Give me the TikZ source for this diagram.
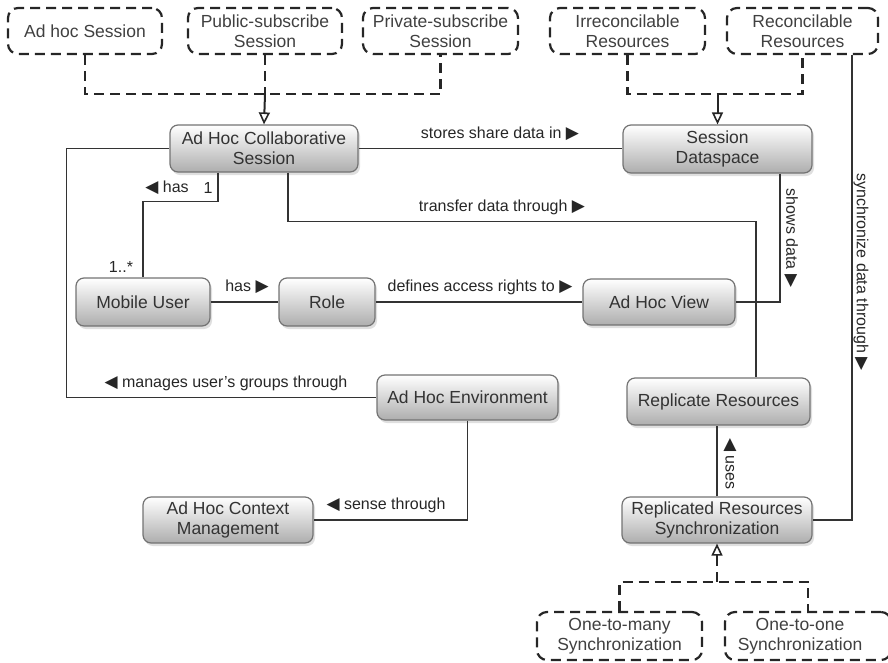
\documentclass[tikz,border=0pt]{standalone}
\usepackage{fontspec}
\setmainfont{Liberation Sans}
\newfontfamily\symf{DejaVu Sans}
\usetikzlibrary{arrows.meta,shadows}
\newcommand{\rtri}{{\symf\fontsize{17}{18}\selectfont ▶}}
\newcommand{\ltri}{{\symf\fontsize{17}{18}\selectfont ◀}}
\newcommand{\nodefont}{\fontsize{17.5}{20}\selectfont}
\newcommand{\lblfont}{\fontsize{16}{18}\selectfont}
\tikzset{
  cls/.style={draw=black!55, line width=1.2pt, rounded corners=8pt,
    top color=white, bottom color=black!32,
    drop shadow={shadow xshift=2pt, shadow yshift=-3pt, opacity=0.25},
    font=\nodefont, text=black!80, align=center, minimum height=46pt, inner sep=2pt},
  dbox/.style={draw=black!85, line width=2.2pt, dash pattern=on 10pt off 6pt,
    rounded corners=10pt, font=\nodefont, text=black!75, align=center,
    minimum height=46pt, inner sep=2pt},
  conn/.style={draw=black!80, line width=1.1pt},
  gen/.style={draw=black!85, line width=2.2pt, dash pattern=on 10pt off 6pt},
  inh/.style={draw=black!85, line width=2pt,
    -{Triangle[open, width=11pt, length=12pt, line width=1.6pt, fill=white]}},
  lbl/.style={font=\lblfont, text=black!85, inner sep=1pt},
}
\begin{document}
\begin{tikzpicture}[x=1pt, y=-1pt]
\useasboundingbox (0,0) rectangle (888,662);
% dashed category boxes
\node[dbox, minimum width=154pt] (adhoc) at (85,31) {Ad hoc Session};
\node[dbox, minimum width=154pt] (pub) at (265,31) {Public-subscribe\\Session};
\node[dbox, minimum width=155pt] (priv) at (440.5,31) {Private-subscribe\\Session};
\node[dbox, minimum width=155pt] (irr) at (627.5,31) {Irreconcilable\\Resources};
\node[dbox, minimum width=151pt] (rec) at (802.5,31) {Reconcilable\\Resources};
\node[dbox, minimum width=165pt, minimum height=48pt] (onemany) at (619.5,636) {One-to-many\\Synchronization};
\node[dbox, minimum width=166pt, minimum height=48pt] (oneone) at (808,636) {One-to-one\hspace*{16pt}\\Synchronization\hspace*{16pt}};
% classes
\node[cls, minimum width=188pt, minimum height=47pt] (collab) at (264,148.5) {Ad Hoc Collaborative\\Session};
\node[cls, minimum width=189pt, minimum height=48pt] (data) at (717.5,149) {Session\\Dataspace};
\node[cls, minimum width=134pt, minimum height=48pt] (mobile) at (143,302) {Mobile User};
\node[cls, minimum width=96pt, minimum height=48pt] (role) at (327,302) {Role};
\node[cls, minimum width=152pt] (view) at (659,302) {Ad Hoc View};
\node[cls, minimum width=181pt, minimum height=45pt] (env) at (467.5,397.5) {Ad Hoc Environment};
\node[cls, minimum width=183pt, minimum height=47pt] (repl) at (718.5,401.5) {Replicate Resources};
\node[cls, minimum width=170pt] (ctx) at (228,520) {Ad Hoc Context\\Management};
\node[cls, minimum width=190pt] (rrs) at (717,520) {Replicated Resources\\Synchronization};
% generalisations (top)
\draw[gen] (adhoc.south) -- ++(0,39) -| (priv.south);
\draw[gen] (pub.south) -- ++(0,39) coordinate (g1);
\draw[inh] (g1) -- (collab.north);
\draw[gen] (irr.south) -- ++(0,39) coordinate (g2) -| (rec.south);
\draw[inh] (g2 -| data.north) -- (data.north);
% generalisation (bottom)
\draw[gen] (onemany.north) -- ++(0,-29) coordinate (g3) -| (oneone.north);
\draw[gen] (g3 -| rrs.south) -- ++(0,-26) coordinate (g4);
\draw[inh] (g4) -- (rrs.south);
% associations
\draw[conn] (collab.east) -- (collab.east -| data.west);
\node[lbl] (l1) at (500,134) {stores share data in \rtri};
\draw[conn] (collab.west) -- ++(-103,0) |- (env.west);
\node[lbl] (l2) at (226,383) {\ltri\ manages user's groups through};
\draw[conn] ([xshift=-46pt]collab.south) -- ++(0,29) -| (mobile.north);
\node[lbl] (l3) at (167,188) {\ltri\ has};
\node[lbl] (l3a) at (208,188) {1};
\node[lbl] (l3b) at (121,267) {1..*};
\draw[conn] (mobile.east) -- (role.west);
\node[lbl] (l4) at (247,287) {has \rtri};
\draw[conn] (role.east) -- (view.west);
\node[lbl] (l5) at (480,287) {defines access rights to \rtri};
\draw[conn] ([xshift=24pt]collab.south) -- ++(0,49) -| ([xshift=37.5pt]repl.north);
\node[lbl] (l6) at (502,207) {transfer data through \rtri};
\draw[conn] ([xshift=62.5pt]data.south) |- (view.east);
\node[lbl, rotate=-90] (l7) at (791,238) {shows data \rtri};
\draw[conn] (env.south) |- (ctx.east);
\node[lbl] (l8) at (386,505) {\ltri\ sense through};
\draw[conn] (rrs.north) -- (rrs.north |- repl.south);
\node[lbl, rotate=-90] (l9) at (730,464) {\ltri\ uses};
\draw[conn] ([xshift=49.5pt]rec.south) |- (rrs.east);
\node[lbl, rotate=-90] (l10) at (861,272) {synchronize data through \rtri};
\end{tikzpicture}
\end{document}
